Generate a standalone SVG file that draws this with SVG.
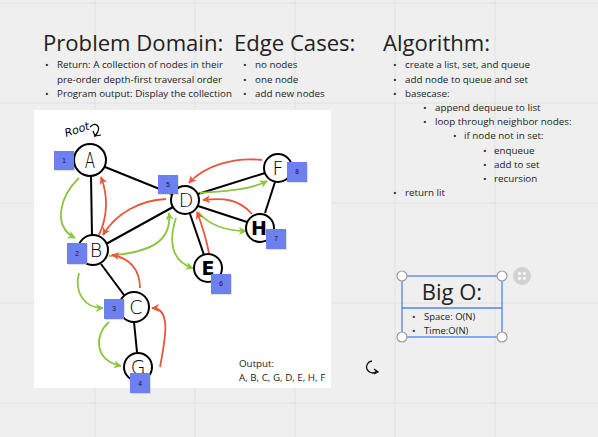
<svg xmlns="http://www.w3.org/2000/svg" width="598" height="437" viewBox="0 0 598 437">
<defs>
<style>
.grid{stroke:#e1e1e1;stroke-width:1}
.t{font-family:"Open Sans","Noto Sans",sans-serif;fill:#222}
.h{font-size:22.1px}
.b{font-size:9.8px}
.edge{stroke:#000;stroke-width:2;fill:none}
.g{stroke:#8cc63f;stroke-width:1.8;fill:none;marker-end:url(#ag)}
.r{stroke:#e8573a;stroke-width:1.8;fill:none;marker-end:url(#ar)}
.node circle{fill:#fff;stroke:#000;stroke-width:2}
.lbl{font-family:"DejaVu Sans","Liberation Sans",sans-serif;font-weight:200;font-size:19px;fill:#000;text-anchor:middle}
.sq{fill:#6e7ff0}
.sh{fill:#000;opacity:0.12}
.num{font-family:"Liberation Sans",sans-serif;font-size:6.5px;fill:#111;text-anchor:middle}
.hd{fill:#fff;stroke:#9a9a9a;stroke-width:1.2}
</style>
<marker id="ag" viewBox="0 0 10 10" refX="9" refY="5" markerWidth="8" markerHeight="8" markerUnits="userSpaceOnUse" orient="auto"><path d="M0,0 L10,5 L0,10 L3,5 z" fill="#8cc63f"/></marker>
<marker id="ar" viewBox="0 0 10 10" refX="9" refY="5" markerWidth="8" markerHeight="8" markerUnits="userSpaceOnUse" orient="auto"><path d="M0,0 L10,5 L0,10 L3,5 z" fill="#e8573a"/></marker>
</defs>
<rect width="598" height="437" fill="#efefef"/>
<g id="grid">
<line class="grid" x1="95" y1="0" x2="95" y2="437"/>
<line class="grid" x1="195" y1="0" x2="195" y2="437"/>
<line class="grid" x1="295" y1="0" x2="295" y2="437"/>
<line class="grid" x1="395" y1="0" x2="395" y2="437"/>
<line class="grid" x1="495" y1="0" x2="495" y2="437"/>
<line class="grid" x1="0" y1="3" x2="598" y2="3"/>
<line class="grid" x1="0" y1="103" x2="598" y2="103"/>
<line class="grid" x1="0" y1="203" x2="598" y2="203"/>
<line class="grid" x1="0" y1="303" x2="598" y2="303"/>
<line class="grid" x1="0" y1="403" x2="598" y2="403"/>
</g>

<g id="problem-domain">
<text class="t h" x="43" y="51">Problem Domain:</text>
<g class="t b">
<text x="45" y="68">•</text><text x="57" y="68">Return: A collection of nodes in their</text>
<text x="57" y="83">pre-order depth-first traversal order</text>
<text x="45" y="97">•</text><text x="57" y="97">Program output: Display the collection</text>
</g>
</g>

<g id="edge-cases">
<text class="t h" x="234" y="51">Edge Cases:</text>
<g class="t b">
<text x="243" y="68">•</text><text x="255" y="68">no nodes</text>
<text x="243" y="83">•</text><text x="255" y="83">one node</text>
<text x="243" y="97">•</text><text x="255" y="97">add new nodes</text>
</g>
</g>

<g id="algorithm">
<text class="t h" x="383" y="51">Algorithm:</text>
<g class="t b">
<text x="393" y="68">•</text><text x="405" y="68">create a list, set, and queue</text>
<text x="393" y="83">•</text><text x="405" y="83">add node to queue and set</text>
<text x="393" y="97">•</text><text x="405" y="97">basecase:</text>
<text x="423" y="111">•</text><text x="435" y="111">append dequeue to list</text>
<text x="423" y="125">•</text><text x="435" y="125">loop through neighbor nodes:</text>
<text x="453" y="139">•</text><text x="464" y="139">if node not in set:</text>
<text x="483" y="154">•</text><text x="494" y="154">enqueue</text>
<text x="483" y="168">•</text><text x="494" y="168">add to set</text>
<text x="483" y="182">•</text><text x="494" y="182">recursion</text>
<text x="393" y="196">•</text><text x="405" y="196">return lit</text>
</g>
</g>

<g id="picture">
<rect x="34" y="110" width="297" height="278" fill="#fff"/>
<g id="root-label">
<text x="0" y="0" transform="translate(66,137) rotate(-18)" style="font-family:'DejaVu Sans',sans-serif;font-size:11px;font-style:italic;fill:#000">Root</text>
<path d="M90,127 C96,121 101,127 97,133 L95,136 L101,135" fill="none" stroke="#000" stroke-width="1.2"/>
<path d="M93,131 L95,136 L98,132" fill="none" stroke="#000" stroke-width="1.2"/>
</g>

<g id="connectors">
<line class="edge" x1="105" y1="167" x2="172" y2="194"/>
<line class="edge" x1="91" y1="176" x2="92" y2="236"/>
<line class="edge" x1="106" y1="244" x2="173" y2="207"/>
<line class="edge" x1="101" y1="264" x2="124" y2="295"/>
<line class="edge" x1="134" y1="322" x2="137" y2="352"/>
<line class="edge" x1="198" y1="194" x2="265" y2="173"/>
<line class="edge" x1="198" y1="206" x2="247" y2="222"/>
<line class="edge" x1="190" y1="214" x2="204" y2="255"/>
<line class="edge" x1="275" y1="182" x2="265" y2="213"/>

<path class="g" d="M79,178 C60,196 52,226 75,238"/>
<path class="g" d="M109,256 C150,252 172,242 169,213"/>
<path class="g" d="M176,218 C168,242 172,262 193,268"/>
<path class="g" d="M200,193 C226,191 250,190 267,181"/>
<path class="g" d="M198,212 C210,226 226,231 246,231"/>
<path class="g" d="M79,273 C74,292 84,308 103,308"/>
<path class="g" d="M109,322 C94,335 94,360 121,366"/>

<path class="r" d="M99,235 C108,216 108,195 101,177"/>
<path class="r" d="M166,199 C140,200 115,214 103,235"/>
<path class="r" d="M140,288 C140,270 130,258 112,255"/>
<path class="r" d="M160,367 C165,340 172,308 152,308"/>
<path class="r" d="M209,253 C206,238 202,225 197,212"/>
<path class="r" d="M252,214 C238,198 222,198 203,200"/>
<path class="r" d="M262,160 C235,157 205,165 189,183"/>
</g>

<g id="node-A" class="node"><circle cx="90" cy="160" r="16"/><text class="lbl" x="90" y="167" transform="translate(90,160) scale(0.8,1.15) translate(-90,-160)">A</text>
<rect class="sh" x="55" y="152" width="20" height="19"/><rect class="sq" x="54" y="151" width="20" height="19"/><text class="num" x="64" y="163">1</text></g>
<g id="node-B" class="node"><circle cx="93" cy="250" r="15"/><text class="lbl" x="96" y="257">B</text>
<rect class="sh" x="68" y="244" width="20" height="21"/><rect class="sq" x="67" y="243" width="20" height="21"/><text class="num" x="77" y="256">2</text></g>
<g id="node-C" class="node"><circle cx="134" cy="307" r="15"/><text class="lbl" x="136" y="314">C</text>
<rect class="sh" x="105" y="300" width="20" height="20"/><rect class="sq" x="104" y="299" width="20" height="20"/><text class="num" x="114" y="311">3</text></g>
<g id="node-G" class="node"><circle cx="138" cy="367" r="14"/><text class="lbl" x="138" y="374">G</text>
<rect class="sh" x="131" y="374" width="20" height="20"/><rect class="sq" x="130" y="373" width="20" height="20"/><text class="num" x="140" y="386">4</text></g>
<g id="node-D" class="node"><circle cx="185" cy="200" r="14"/><text class="lbl" x="186" y="207">D</text>
<rect class="sh" x="159" y="176" width="20" height="19"/><rect class="sq" x="158" y="175" width="20" height="19"/><text class="num" x="168" y="187">5</text></g>
<g id="node-E" class="node"><circle cx="208" cy="268" r="14"/><text class="lbl" x="208" y="275" style="font-weight:bold">E</text>
<rect class="sh" x="212" y="275" width="20" height="20"/><rect class="sq" x="211" y="274" width="20" height="20"/><text class="num" x="221" y="286">6</text></g>
<g id="node-F" class="node"><circle cx="278" cy="168" r="14"/><text class="lbl" x="278" y="175">F</text>
<rect class="sh" x="288" y="163" width="20" height="20"/><rect class="sq" x="287" y="162" width="20" height="20"/><text class="num" x="297" y="174">8</text></g>
<g id="node-H" class="node"><circle cx="260" cy="228" r="14"/><text class="lbl" x="259" y="235" style="font-weight:bold">H</text>
<rect class="sh" x="267" y="230" width="20" height="20"/><rect class="sq" x="266" y="229" width="20" height="20"/><text class="num" x="276" y="241">7</text></g>

<g id="output" class="t" style="font-size:9.8px">
<text x="239" y="367">Output:</text>
<text x="239" y="381">A, B, C, G, D, E, H, F</text>
</g>
</g>

<g id="big-o">
<rect x="402" y="276" width="100" height="61" fill="none" stroke="#4d84f0" stroke-width="1.3"/>
<line x1="402" y1="308" x2="502" y2="308" stroke="#4d84f0" stroke-width="1.3"/>
<text class="t" x="452" y="300" style="font-size:22px" text-anchor="middle">Big O:</text>
<g class="t" style="font-size:9.5px">
<text x="412" y="320">•</text><text x="424" y="320">Space: O(N)</text>
<text x="412" y="334">•</text><text x="424" y="334">Time:O(N)</text>
</g>
<circle class="hd" cx="402" cy="276" r="5"/>
<circle class="hd" cx="502" cy="276" r="5"/>
<circle class="hd" cx="402" cy="337" r="5"/>
<circle class="hd" cx="502" cy="337" r="5"/>
<circle cx="522" cy="276" r="9" fill="#d2d2d2"/>
<g fill="#fff"><circle cx="519.5" cy="273.5" r="1.4"/><circle cx="524.5" cy="273.5" r="1.4"/><circle cx="519.5" cy="278.5" r="1.4"/><circle cx="524.5" cy="278.5" r="1.4"/></g>
</g>

<g id="rotate-icon">
<path d="M377,371 A6,6 0 1 1 372,361" fill="none" stroke="#111" stroke-width="1.3"/>
<path d="M374,369 L378,372 L374,374" fill="none" stroke="#111" stroke-width="1.3"/>
</g>
</svg>
